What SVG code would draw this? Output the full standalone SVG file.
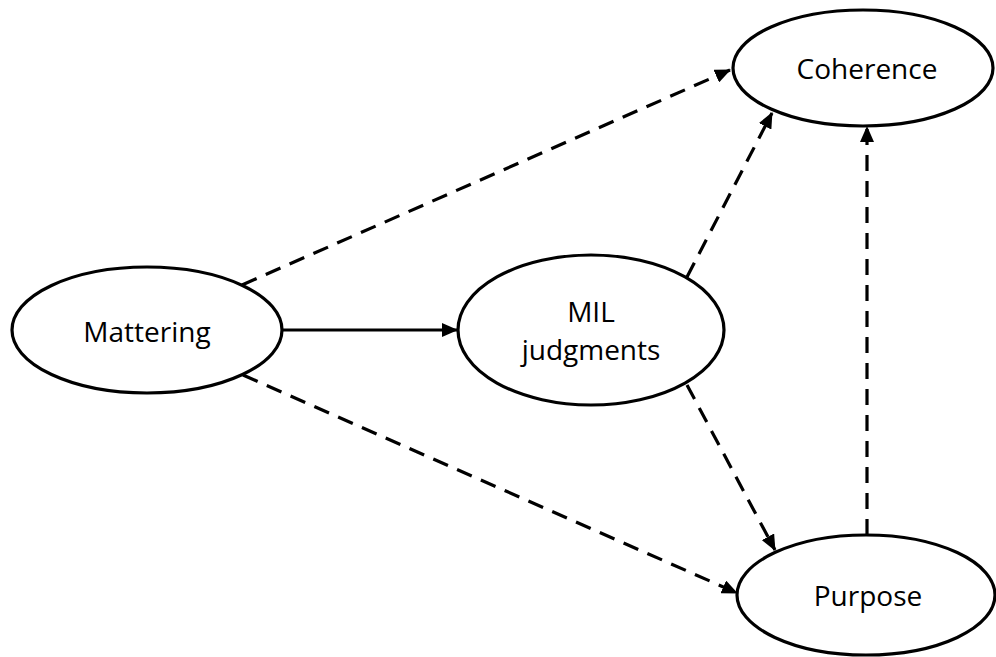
<svg xmlns="http://www.w3.org/2000/svg" width="996" height="657" viewBox="0 0 996 657">
<style>
.node ellipse{fill:#fff;stroke:#000;stroke-width:3.2}
.node text{font-family:"Open Sans","Liberation Sans",Arial,sans-serif;font-size:28px;fill:#000;text-anchor:middle}
.edge{stroke:#000;stroke-width:3.2;fill:none;marker-end:url(#arr)}
.dash{stroke-dasharray:16 10}
</style>
<defs>
<marker id="arr" markerUnits="userSpaceOnUse" markerWidth="16" markerHeight="14" viewBox="0 0 16 14" refX="15" refY="7" orient="auto">
<path d="M0,0 L16,7 L0,14 Z" fill="#000"/>
</marker>
</defs>
<rect width="996" height="657" fill="#fff"/>
<g id="connectors">
<line class="edge" x1="283" y1="330" x2="457" y2="330"/>
<line class="edge dash" x1="242" y1="285" x2="730" y2="70"/>
<line class="edge dash" x1="687" y1="277" x2="772" y2="113"/>
<line class="edge dash" x1="243" y1="375" x2="737" y2="593"/>
<line class="edge dash" x1="687" y1="385" x2="775" y2="550"/>
<line class="edge dash" x1="867" y1="535" x2="867" y2="127"/>
</g>
<g id="coherence" class="node">
<ellipse cx="863" cy="68" rx="130" ry="58"/>
<text x="867" y="79">Coherence</text>
</g>
<g id="mattering" class="node">
<ellipse cx="147" cy="330" rx="135" ry="63"/>
<text x="147" y="342">Mattering</text>
</g>
<g id="mil" class="node">
<ellipse cx="591" cy="330" rx="133" ry="75"/>
<text x="591" y="322">MIL</text>
<text x="591" y="360">judgments</text>
</g>
<g id="purpose" class="node">
<ellipse cx="866" cy="595" rx="129" ry="60"/>
<text x="868" y="606">Purpose</text>
</g>
</svg>
